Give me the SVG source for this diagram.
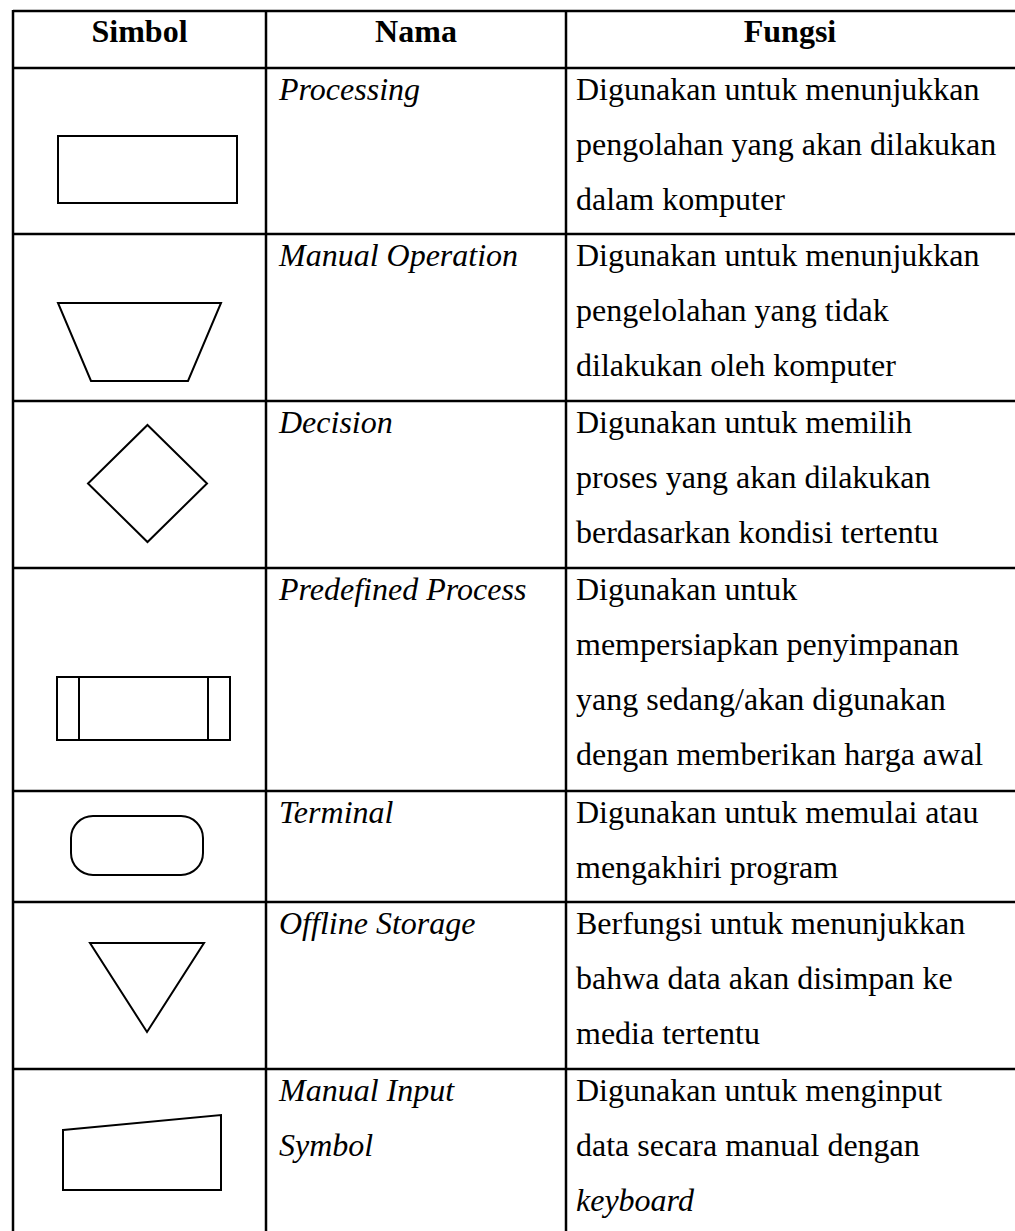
<svg xmlns="http://www.w3.org/2000/svg" width="1015" height="1231" viewBox="0 0 1015 1231">
<style>
.grid{stroke:#000;stroke-width:2.5;fill:none}
.shape{stroke:#000;stroke-width:2;fill:none;stroke-linejoin:miter}
text{font-family:"Liberation Serif","Times New Roman",serif;font-size:32px;fill:#000}
.h{font-weight:bold;text-anchor:middle}
.i{font-style:italic}
</style>
<rect width="1015" height="1231" fill="#fff"/>
<g id="grid" class="grid">
<line x1="13" y1="11" x2="1015" y2="11"/>
<line x1="13" y1="68" x2="1015" y2="68"/>
<line x1="13" y1="234" x2="1015" y2="234"/>
<line x1="13" y1="401" x2="1015" y2="401"/>
<line x1="13" y1="568" x2="1015" y2="568"/>
<line x1="13" y1="791" x2="1015" y2="791"/>
<line x1="13" y1="902" x2="1015" y2="902"/>
<line x1="13" y1="1069" x2="1015" y2="1069"/>
<line x1="13" y1="10" x2="13" y2="1231"/>
<line x1="266" y1="10" x2="266" y2="1231"/>
<line x1="566" y1="10" x2="566" y2="1231"/>
</g>
<g id="header">
<text class="h" x="139.5" y="42">Simbol</text>
<text class="h" x="416" y="42">Nama</text>
<text class="h" x="790" y="42">Fungsi</text>
</g>
<g id="row-processing">
<rect class="shape" x="58" y="136" width="179" height="67"/>
<text class="i" x="279" y="100">Processing</text>
<text x="576" y="100">Digunakan untuk menunjukkan</text>
<text x="576" y="155">pengolahan yang akan dilakukan</text>
<text x="576" y="210">dalam komputer</text>
</g>
<g id="row-manual-operation">
<polygon class="shape" points="58,303 221,303 188,381 91,381"/>
<text class="i" x="279" y="266">Manual Operation</text>
<text x="576" y="266">Digunakan untuk menunjukkan</text>
<text x="576" y="321">pengelolahan yang tidak</text>
<text x="576" y="376">dilakukan oleh komputer</text>
</g>
<g id="row-decision">
<polygon class="shape" points="147.5,425 207,483.5 147.5,542 88,483.5"/>
<text class="i" x="279" y="433">Decision</text>
<text x="576" y="433">Digunakan untuk memilih</text>
<text x="576" y="488">proses yang akan dilakukan</text>
<text x="576" y="543">berdasarkan kondisi tertentu</text>
</g>
<g id="row-predefined-process">
<rect class="shape" x="57" y="677" width="173" height="63"/>
<line class="shape" x1="79" y1="677" x2="79" y2="740"/>
<line class="shape" x1="208" y1="677" x2="208" y2="740"/>
<text class="i" x="279" y="600">Predefined Process</text>
<text x="576" y="600">Digunakan untuk</text>
<text x="576" y="655">mempersiapkan penyimpanan</text>
<text x="576" y="710">yang sedang/akan digunakan</text>
<text x="576" y="765">dengan memberikan harga awal</text>
</g>
<g id="row-terminal">
<rect class="shape" x="71" y="816" width="132" height="59" rx="22" ry="22"/>
<text class="i" x="279" y="823">Terminal</text>
<text x="576" y="823">Digunakan untuk memulai atau</text>
<text x="576" y="878">mengakhiri program</text>
</g>
<g id="row-offline-storage">
<polygon class="shape" points="90,943 204,943 147,1032"/>
<text class="i" x="279" y="934">Offline Storage</text>
<text x="576" y="934">Berfungsi untuk menunjukkan</text>
<text x="576" y="989">bahwa data akan disimpan ke</text>
<text x="576" y="1044">media tertentu</text>
</g>
<g id="row-manual-input">
<polygon class="shape" points="63,1130 221,1115 221,1190 63,1190"/>
<text class="i" x="279" y="1101">Manual Input</text>
<text class="i" x="279" y="1156">Symbol</text>
<text x="576" y="1101">Digunakan untuk menginput</text>
<text x="576" y="1156">data secara manual dengan</text>
<text class="i" x="576" y="1211">keyboard</text>
</g>
</svg>
